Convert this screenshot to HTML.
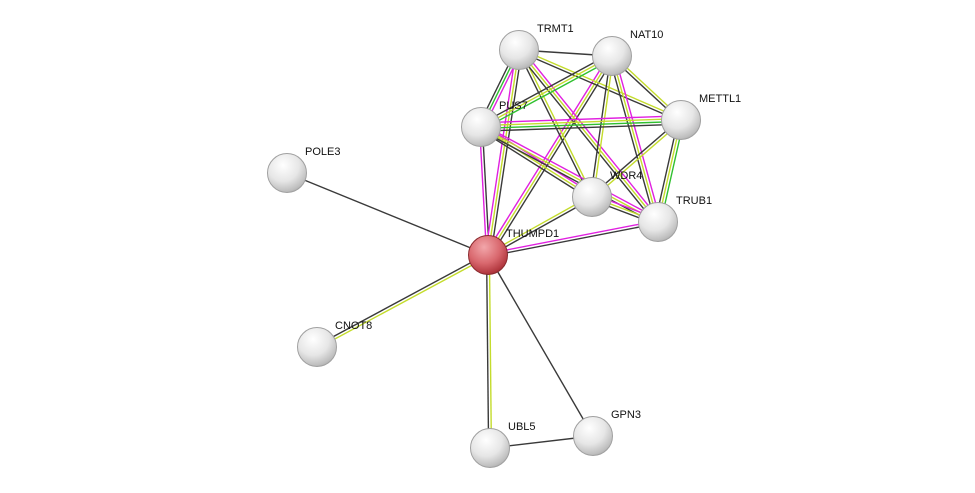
<!DOCTYPE html>
<html><head><meta charset="utf-8"><style>
html,body{margin:0;padding:0;background:#fff;width:975px;height:493px;overflow:hidden}
svg text{font-family:"Liberation Sans",sans-serif;font-size:11px;fill:#111}
</style></head><body>
<svg id="s" width="975" height="493" xmlns="http://www.w3.org/2000/svg">
<defs>
<radialGradient id="g" cx="0.4" cy="0.3" r="0.75">
<stop offset="0" stop-color="#ffffff"/><stop offset="0.55" stop-color="#e6e6e6"/><stop offset="0.9" stop-color="#bdbdbd"/><stop offset="1" stop-color="#a8a8a8"/>
</radialGradient>
<radialGradient id="r" cx="0.4" cy="0.3" r="0.75">
<stop offset="0" stop-color="#f2a6aa"/><stop offset="0.55" stop-color="#d9686e"/><stop offset="0.9" stop-color="#b2383f"/><stop offset="1" stop-color="#8e2a30"/>
</radialGradient>
</defs>
<g id="edges"></g><g id="nodes"></g>
</svg>
<script>
var N={THUMPD1:[488,255],TRMT1:[519,50],NAT10:[612,56],METTL1:[681,120],PUS7:[481,127],WDR4:[592,197],TRUB1:[658,222],POLE3:[287,173],CNOT8:[317,347],UBL5:[490,448],GPN3:[593,436]};
var C={m:"#e020e0",k:"#3a3a3a",y:"#c4dc2c",g:"#30c030"};
var E=[["THUMPD1","POLE3","k"],["THUMPD1","CNOT8","yk"],["THUMPD1","UBL5","yk"],["THUMPD1","GPN3","k"],["UBL5","GPN3","k"],
["THUMPD1","TRUB1","mk"],["THUMPD1","WDR4","yk"],["THUMPD1","PUS7","mk"],["THUMPD1","TRMT1","myk"],["THUMPD1","NAT10","myk"],
["TRMT1","NAT10","k"],["TRMT1","PUS7","mgk"],["TRMT1","METTL1","yk"],["TRMT1","WDR4","yk"],["TRMT1","TRUB1","myk"],
["NAT10","PUS7","gyk"],["NAT10","METTL1","yk"],["NAT10","WDR4","yk"],["NAT10","TRUB1","myk"],
["PUS7","METTL1","mygk"],["PUS7","WDR4","myk"],["PUS7","TRUB1","myk"],["METTL1","WDR4","yk"],["METTL1","TRUB1","gyk"],["WDR4","TRUB1","myk"]];
var ns="http://www.w3.org/2000/svg",eg=document.getElementById("edges"),ng=document.getElementById("nodes");
E.forEach(function(e){var a=N[e[0]],b=N[e[1]],dx=b[0]-a[0],dy=b[1]-a[1],L=Math.hypot(dx,dy),px=-dy/L,py=dx/L,n=e[2].length;
for(var i=0;i<n;i++){var o=(i-(n-1)/2)*2.8;var l=document.createElementNS(ns,"line");
l.setAttribute("x1",a[0]+px*o);l.setAttribute("y1",a[1]+py*o);l.setAttribute("x2",b[0]+px*o);l.setAttribute("y2",b[1]+py*o);
l.setAttribute("stroke",C[e[2][i]]);l.setAttribute("stroke-width","1.4");eg.appendChild(l);}});
for(var k in N){var p=N[k];var c=document.createElementNS(ns,"circle");c.setAttribute("cx",p[0]);c.setAttribute("cy",p[1]);c.setAttribute("r",19.5);
c.setAttribute("fill",k=="THUMPD1"?"url(#r)":"url(#g)");c.setAttribute("stroke",k=="THUMPD1"?"#8a2a2e":"#a0a0a0");c.setAttribute("stroke-width","1");ng.appendChild(c);
var t=document.createElementNS(ns,"text");t.setAttribute("x",p[0]+18);t.setAttribute("y",p[1]-18);t.textContent=k;ng.appendChild(t);}
</script>
</body></html>
